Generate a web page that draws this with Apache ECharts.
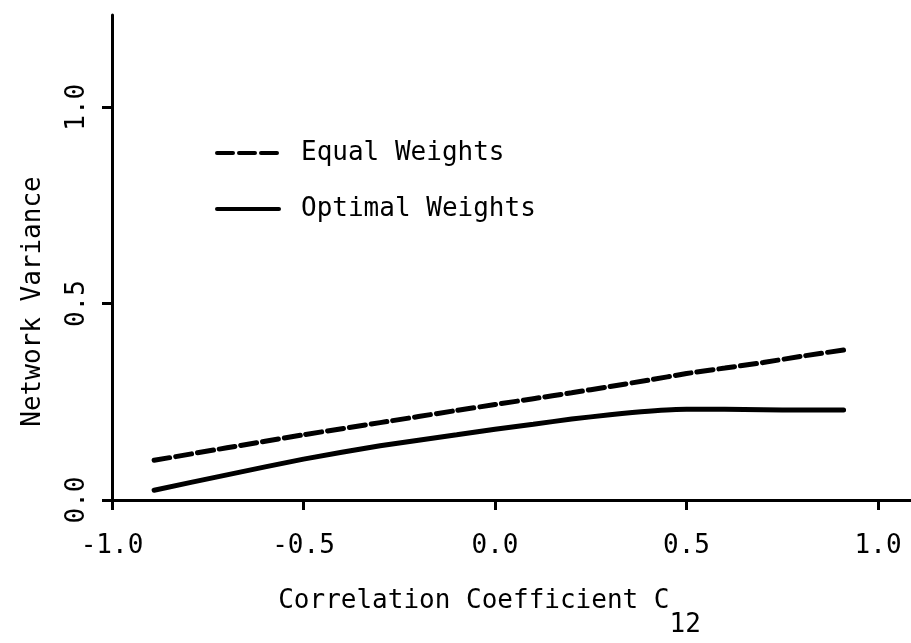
<!DOCTYPE html>
<html><head><meta charset="utf-8">
<script src="https://cdn.jsdelivr.net/npm/echarts@6/dist/echarts.min.js"></script>
<style>html,body{margin:0;padding:0;background:#fff}#c{width:911px;height:643px}</style>
</head><body><div id="c"></div>
<script>
const corr = [-0.89, -0.7, -0.5, -0.3, -0.1, 0.0, 0.1, 0.2, 0.3, 0.4, 0.5, 0.6, 0.7, 0.8, 0.91];
const equalWeights = [0.101, 0.133, 0.166, 0.197, 0.228, 0.243, 0.258, 0.273, 0.289, 0.305, 0.322, 0.336, 0.350, 0.366, 0.382];
const optimalWeights = [0.025, 0.064, 0.104, 0.138, 0.166, 0.180, 0.193, 0.206, 0.217, 0.226, 0.231, 0.231, 0.230, 0.229, 0.229];
const xTicks = [-1.0, -0.5, 0.0, 0.5, 1.0];
const yTicks = [0.0, 0.5, 1.0];
const seriesNames = ['Equal Weights', 'Optimal Weights'];

const FONT = '"DejaVu Sans Mono", "Liberation Mono", monospace';
const DASH = [16, 6];
const chart = echarts.init(document.getElementById('c'), null, {renderer: 'canvas'});
const pairs = (ys) => corr.map((c, i) => [c, ys[i]]);

chart.setOption({
  animation: false,
  backgroundColor: '#fff',
  grid: {left: 112, right: 0, top: 15, bottom: 140, containLabel: false},
  legend: {
    orient: 'vertical', left: 210, top: 135,
    itemWidth: 62, itemHeight: 26, itemGap: 30,
    itemStyle: {color: 'rgba(0,0,0,0)', borderWidth: 0},
    data: [
      {name: seriesNames[0], lineStyle: {color: '#000', width: 4, type: DASH}},
      {name: seriesNames[1], lineStyle: {color: '#000', width: 4, type: 'solid'}}
    ],
    textStyle: {fontFamily: FONT, fontSize: 26, color: '#000', padding: [0, 0, 0, 17]}
  },
  xAxis: {
    type: 'value', min: -1.0, max: 1.086,
    axisLine: {onZero: false, lineStyle: {color: '#000', width: 3}},
    axisTick: {show: true, customValues: xTicks, length: 10, lineStyle: {color: '#000', width: 3}},
    axisLabel: {customValues: xTicks, formatter: v => v.toFixed(1), fontFamily: FONT, fontSize: 26, color: '#000', margin: 33},
    splitLine: {show: false},
    name: '{a|Correlation Coefficient C}{s|12}',
    nameLocation: 'middle', nameGap: 88,
    nameTextStyle: {
      padding: [0, 44, 0, 0],
      rich: {
        a: {fontFamily: FONT, fontSize: 26, color: '#000', verticalAlign: 'top', lineHeight: 28},
        s: {fontFamily: FONT, fontSize: 26, color: '#000', verticalAlign: 'top', lineHeight: 28, padding: [24, 0, 0, 0]}
      }
    }
  },
  yAxis: {
    type: 'value', min: 0, max: 1.235,
    axisLine: {onZero: false, lineStyle: {color: '#000', width: 3}},
    axisTick: {show: true, customValues: yTicks, length: 10, lineStyle: {color: '#000', width: 3}},
    axisLabel: {customValues: yTicks, formatter: v => v.toFixed(1), fontFamily: FONT, fontSize: 26, color: '#000', rotate: 90, margin: 22},
    splitLine: {show: false},
    name: 'Network Variance', nameLocation: 'middle', nameRotate: 90, nameGap: 66,
    nameTextStyle: {fontFamily: FONT, fontSize: 26, color: '#000', padding: [0, 88, 0, 0]}
  },
  series: [
    {name: seriesNames[0], type: 'line', data: pairs(equalWeights), symbol: 'none', smooth: 0.2,
     lineStyle: {color: '#000', width: 5, type: DASH, cap: 'round'}, itemStyle: {color: '#000'}},
    {name: seriesNames[1], type: 'line', data: pairs(optimalWeights), symbol: 'none', smooth: 0.2,
     lineStyle: {color: '#000', width: 5, type: 'solid', cap: 'round'}, itemStyle: {color: '#000'}}
  ]
});
</script></body></html>
